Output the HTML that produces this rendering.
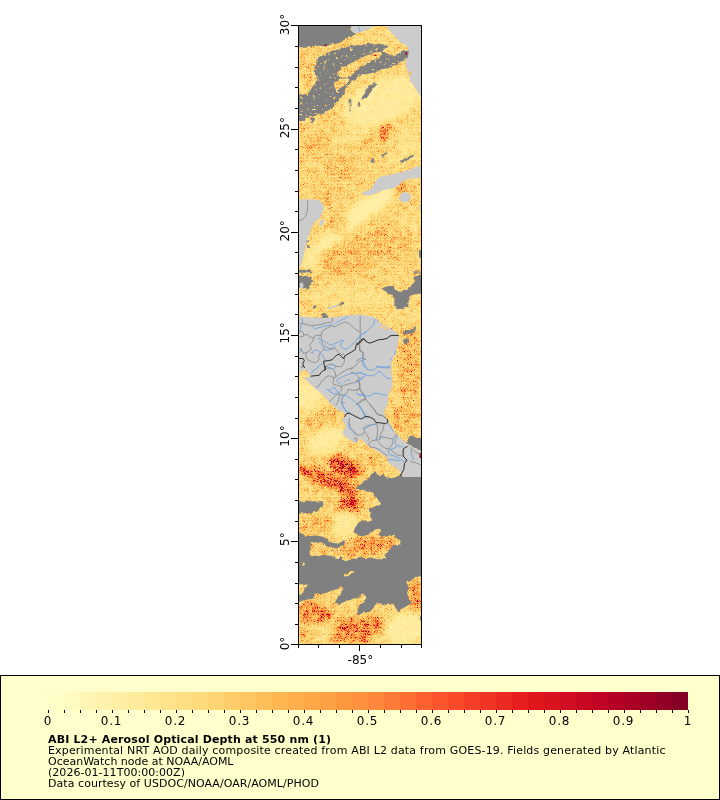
<!DOCTYPE html>
<html><head><meta charset="utf-8"><title>ABI L2+ Aerosol Optical Depth at 550 nm</title>
<style>
html,body{margin:0;padding:0;background:#fff;}
svg{display:block;}
text{font-family:"DejaVu Sans","Liberation Sans",sans-serif;fill:#000;}
.ax{font-size:12px;}
.lg{font-size:11px;}
</style></head><body>
<svg width="720" height="800" viewBox="0 0 720 800">
<rect width="720" height="800" fill="#fff"/>

<g id="map">
<defs>
<clipPath id="mc"><rect x="299" y="26" width="122" height="618"/></clipPath>
<filter id="cm" color-interpolation-filters="sRGB" filterUnits="userSpaceOnUse" x="284" y="10" width="152" height="652"><feGaussianBlur in="SourceGraphic" stdDeviation="3" result="m"/><feTurbulence type="turbulence" baseFrequency="0.7" numOctaves="1" seed="5"/><feColorMatrix type="matrix" values="1 0 0 0 0  1 0 0 0 0  1 0 0 0 0  0 0 0 0 1" result="t1"/><feTurbulence type="fractalNoise" baseFrequency="0.16" numOctaves="2" seed="8"/><feColorMatrix type="matrix" values="1 0 0 0 0  1 0 0 0 0  1 0 0 0 0  0 0 0 0 1" result="t2"/><feComposite in="t1" in2="t2" operator="arithmetic" k1="0" k2="0.95" k3="0.55" k4="0.065" result="n0"/><feComponentTransfer in="n0" result="n"><feFuncR type="table" tableValues="0.072 0.092 0.118 0.152 0.195 0.250 0.321 0.412 0.529 0.680 0.873"/><feFuncG type="table" tableValues="0.072 0.092 0.118 0.152 0.195 0.250 0.321 0.412 0.529 0.680 0.873"/><feFuncB type="table" tableValues="0.072 0.092 0.118 0.152 0.195 0.250 0.321 0.412 0.529 0.680 0.873"/></feComponentTransfer><feComposite in="m" in2="n" operator="arithmetic" k1="4" k2="0" k3="-0.32" k4="0.08" result="f"/><feComponentTransfer in="f"><feFuncR type="table" tableValues="1.000 1.000 0.996 0.996 0.992 0.988 0.890 0.741 0.502"/><feFuncG type="table" tableValues="1.000 0.929 0.851 0.698 0.553 0.306 0.102 0.000 0.000"/><feFuncB type="table" tableValues="0.800 0.627 0.463 0.298 0.235 0.165 0.110 0.149 0.149"/><feFuncA type="linear" slope="0" intercept="1"/></feComponentTransfer></filter>
<filter id="rg" color-interpolation-filters="sRGB" filterUnits="userSpaceOnUse" x="284" y="10" width="152" height="652"><feTurbulence type="fractalNoise" baseFrequency="0.22" numOctaves="2" seed="9" result="t"/><feDisplacementMap in="SourceGraphic" in2="t" scale="4" xChannelSelector="R" yChannelSelector="G"/></filter>
<filter id="spk" color-interpolation-filters="sRGB" filterUnits="userSpaceOnUse" x="284" y="10" width="152" height="652"><feTurbulence type="fractalNoise" baseFrequency="0.3 0.55" numOctaves="2" seed="21"/><feColorMatrix type="matrix" values="0 0 0 0 0  0 0 0 0 0  0 0 0 0 0  14 0 0 0 -9.2" result="n"/><feComposite in="n" in2="SourceGraphic" operator="in"/></filter>
<mask id="md" maskUnits="userSpaceOnUse" x="299" y="26" width="122" height="618"><rect x="284" y="10" width="152" height="652" fill="#000"/><g filter="url(#rg)"><rect x="284" y="10" width="152" height="652" fill="#000"/>
<polygon fill="#fff" points="288.0,14.0 351.0,14.0 351.5,29.7 353.8,32.4 356.0,33.3 353.8,34.6 350.2,36.9 346.6,38.7 342.9,40.5 339.3,42.3 335.7,43.7 332.1,44.6 327.6,45.7 323.1,46.2 318.6,45.7 314.1,46.6 309.5,46.2 305.0,46.8 301.4,47.3 288.0,47.7"/>
<polygon fill="#fff" points="288.0,92.5 303.5,94.8 308.5,92.5 312.2,87.2 316.0,81.0 317.9,76.0 314.8,72.2 314.5,65.4 318.5,57.2 324.8,53.5 333.5,50.8 341.0,48.5 348.5,46.6 356.0,45.4 366.0,44.1 376.0,43.2 383.5,44.5 387.0,45.4 387.1,47.0 383.2,49.2 383.8,51.1 388.2,54.2 392.7,55.3 397.1,54.2 401.6,51.1 406.0,49.8 408.8,51.1 409.1,55.3 408.2,59.2 404.9,60.3 401.6,61.4 398.2,63.3 394.9,65.3 391.6,67.0 388.2,68.1 384.9,68.7 381.6,69.2 378.2,70.9 373.8,72.6 369.3,73.7 364.9,74.2 360.4,74.2 356.0,79.1 351.0,81.6 348.5,84.8 346.0,88.5 344.1,92.2 342.2,96.0 339.8,98.5 336.0,101.0 333.5,104.1 332.2,106.0 344.8,86.0 344.8,93.5 337.9,101.0 332.5,108.2 323.5,113.8 314.8,116.0 307.2,117.8 288.0,122.2"/>
<polygon fill="#fff" points="374.0,81.9 377.6,83.4 373.6,87.9 370.0,93.3 366.4,98.7 362.4,99.3 364.2,93.3 368.2,87.0"/>
<polygon fill="#fff" points="358.3,101.4 360.6,102.3 359.2,106.9 357.4,106.5"/>
<polygon fill="#fff" points="349.1,98.5 351.0,99.8 351.6,104.8 351.0,111.0 349.5,111.6 349.8,104.8"/>
<polygon fill="#fff" points="371.5,158.6 374.0,158.1 373.6,162.2 371.8,162.8"/>
<polygon fill="#fff" points="381.2,155.0 386.3,151.9 387.2,153.2 384.1,156.3 381.9,156.8"/>
<polygon fill="#fff" points="399.8,161.7 404.3,158.6 413.4,154.7 414.3,155.9 406.1,160.4 401.6,163.5"/>
<polygon fill="#fff" points="288.0,118.0 305.0,118.0 304.1,120.7 288.0,122.0"/>
<polygon fill="#fff" points="310.4,118.0 315.0,118.0 313.2,122.5 310.8,123.4"/>
<polygon fill="#fff" points="305.0,240.2 309.5,240.7 308.6,242.9 305.4,242.5"/>
<polygon fill="#fff" points="305.9,245.1 310.1,245.6 308.6,247.9 306.1,247.4"/>
<polygon fill="#fff" points="288.0,269.6 312.2,270.3 311.9,272.1 305.0,272.7 288.0,272.1"/>
<polygon fill="#fff" points="288.0,276.3 305.0,275.4 311.3,278.1 313.2,281.7 309.5,285.3 311.3,288.0 306.8,289.8 303.2,287.1 288.0,289.8"/>
<polygon fill="#fff" points="382.7,289.4 386.3,286.7 391.7,285.8 394.4,288.5 397.1,291.2 400.7,292.1 404.3,289.4 407.9,288.5 411.6,284.9 415.2,281.3 413.4,277.7 417.0,275.0 432.0,274.1 432.0,292.1 418.8,293.9 415.2,293.0 411.6,295.7 408.8,300.2 407.9,305.7 404.3,308.4 398.9,309.3 394.4,306.6 394.4,299.3 391.7,294.8 387.2,293.0"/>
<polygon fill="#fff" points="418.8,250.1 432.0,249.8 432.0,257.7 419.1,257.0"/>
<polygon fill="#fff" points="413.4,271.4 432.0,271.8 432.0,273.0 413.4,272.7"/>
<polygon fill="#fff" points="312.2,307.0 315.9,306.1 316.2,308.2 312.6,308.8"/>
<polygon fill="#fff" points="339.3,303.4 343.3,302.5 342.9,304.8 339.7,305.2"/>
<polygon fill="#fff" points="321.3,313.6 324.9,312.7 327.6,315.4 326.7,318.1 322.7,318.1"/>
<polygon fill="#fff" points="402.5,332.6 406.1,330.2 411.6,329.5 416.6,327.2 417.3,329.0 413.4,331.7 407.9,333.5 404.3,335.3"/>
<polygon fill="#fff" points="402.5,339.8 408.8,339.2 410.1,342.5 404.3,344.3"/>
<polygon fill="#fff" points="406.7,442.1 407.7,437.9 410.3,435.3 413.6,436.0 415.6,437.9 432.0,437.7 432.0,451.7 416.9,449.0 412.9,447.1 409.0,445.1 405.1,442.1"/>
<polygon fill="#fff" points="358.3,485.4 362.8,481.8 368.2,478.2 371.8,473.7 375.4,471.9 379.1,475.5 382.7,474.6 386.3,477.3 391.7,478.2 397.1,476.4 402.5,474.6 407.9,474.2 415.2,475.0 432.0,476.4 432.0,574.4 416.1,577.1 411.6,580.7 406.1,582.5 408.8,587.0 407.0,593.3 408.8,598.8 411.6,602.4 407.9,606.0 403.4,607.8 398.9,612.3 395.3,607.8 393.5,603.3 388.1,605.1 382.7,604.2 377.2,602.4 373.6,607.8 369.1,612.3 364.6,611.4 359.2,615.0 355.6,614.1 357.4,610.5 359.2,606.0 362.8,602.4 366.4,597.8 365.5,594.2 361.0,595.1 355.6,597.8 350.2,599.7 345.7,602.4 340.2,604.2 334.8,602.4 337.5,597.8 342.0,593.3 343.3,588.8 341.1,586.1 338.4,588.8 332.1,590.6 326.7,592.4 321.3,594.2 315.9,593.3 313.2,596.9 308.6,599.7 303.2,600.6 288.0,604.2 288.0,501.3 306.8,501.7 314.1,501.3 323.1,501.3 324.9,504.4 323.1,507.1 375.4,507.1 380.9,503.5 379.1,499.9 375.4,496.3 371.8,492.7 366.4,490.9 361.0,489.4 356.5,488.7"/>
<polygon fill="#000" points="338.4,76.2 336.6,71.7 342.9,67.1 350.2,63.5 359.2,59.0 368.2,54.5 375.4,52.3 382.7,51.8 381.8,55.4 375.4,59.0 368.2,62.6 361.0,67.1 355.6,71.7 350.2,76.2 343.8,78.3"/>
<polygon fill="#000" points="333.5,86.0 336.0,81.6 341.0,79.1 346.0,78.5 348.5,80.4 346.0,84.1 342.2,87.2 338.5,89.1 334.8,89.8"/>
<polygon fill="#000" points="323.1,501.6 368.2,501.6 369.1,509.2 370.0,514.6 370.9,520.1 367.3,521.9 362.8,520.1 358.3,522.8 355.6,527.3 353.8,531.8 357.4,535.4 362.8,536.3 368.2,534.5 372.7,531.8 376.3,529.1 380.0,528.7 380.9,531.8 378.2,535.4 382.7,537.2 389.9,535.4 394.4,534.5 395.3,538.1 400.7,540.8 399.8,544.4 394.4,545.3 389.9,548.9 385.4,553.5 386.3,558.0 380.9,559.8 376.3,556.2 371.8,557.1 366.4,558.0 361.0,556.2 355.6,558.0 350.2,560.7 343.8,560.7 342.0,556.2 339.3,558.0 335.7,558.9 333.0,554.4 333.9,549.8 329.4,550.8 324.9,554.4 317.7,556.2 311.3,555.3 309.5,550.8 312.2,545.3 310.4,540.8 305.9,538.1 303.2,532.7 288.0,529.1 288.0,527.3 288.0,514.6 305.0,513.2 312.2,512.8 317.7,511.0 321.3,507.4 323.4,503.8"/>
<polygon fill="#000" points="343.3,574.6 348.4,572.4 353.8,570.2 354.1,572.4 349.3,575.1 344.4,576.4"/>
<polygon fill="#000" points="288.0,581.6 303.2,585.2 307.7,584.3 305.0,588.8 302.3,593.3 288.0,597.8"/>
<polygon fill="#000" points="302.5,562.5 304.7,562.5 304.7,565.6 302.5,565.6"/>
<polygon fill="#000" points="308.6,550.0 315.9,550.9 323.1,550.0 332.1,550.9 338.4,550.0 339.3,553.6 334.8,556.3 328.5,555.4 323.1,554.5 315.9,555.4 311.3,556.3 309.5,553.6"/>
<polygon fill="#000" points="342.0,557.2 344.8,552.7 350.2,550.9 357.4,550.0 364.6,549.1 365.5,552.7 361.0,556.3 355.6,557.2 350.2,559.9 343.8,560.5"/>
<polygon fill="#000" points="364.6,553.6 371.8,550.9 380.9,550.0 386.3,550.9 384.5,554.5 380.9,558.1 375.4,559.0 370.0,557.2 365.5,558.1"/>
<polygon fill="#000" points="348.0,572.6 352.3,570.2 353.8,572.0 350.2,574.4 348.4,574.9"/>
<polygon fill="#000" filter="url(#spk)" points="288.0,92.5 303.5,94.8 308.5,92.5 312.2,87.2 316.0,81.0 317.9,76.0 314.8,72.2 314.5,65.4 318.5,57.2 324.8,53.5 333.5,50.8 341.0,48.5 348.5,46.6 356.0,45.4 366.0,44.1 376.0,43.2 383.5,44.5 387.0,45.4 387.1,47.0 383.2,49.2 383.8,51.1 388.2,54.2 392.7,55.3 397.1,54.2 401.6,51.1 406.0,49.8 408.8,51.1 409.1,55.3 408.2,59.2 404.9,60.3 401.6,61.4 398.2,63.3 394.9,65.3 391.6,67.0 388.2,68.1 384.9,68.7 381.6,69.2 378.2,70.9 373.8,72.6 369.3,73.7 364.9,74.2 360.4,74.2 356.0,79.1 351.0,81.6 348.5,84.8 346.0,88.5 344.1,92.2 342.2,96.0 339.8,98.5 336.0,101.0 333.5,104.1 332.2,106.0 344.8,86.0 344.8,93.5 337.9,101.0 332.5,108.2 323.5,113.8 314.8,116.0 307.2,117.8 288.0,122.2"/>
<polygon fill="#fff" points="315.9,535.4 323.1,536.7 329.4,540.3 334.8,543.2 341.1,542.6 345.7,540.3 343.3,546.2 334.8,548.6 327.6,546.8 321.3,543.2 288.0,540.8 288.0,537.2 306.8,536.3"/>
<polygon fill="#fff" points="418.8,616.4 432.0,615.9 432.0,620.8 419.1,620.4"/>
</g></mask>
</defs>
<g clip-path="url(#mc)">
<g filter="url(#cm)">
<rect x="284" y="10" width="152" height="652" fill="#3e3e3e"/>
<ellipse cx="310.4" cy="67.1" rx="12.6" ry="21.7" transform="rotate(0 310.4 67.1)" fill="#4a4a4a" opacity="0.60"/>
<ellipse cx="382.7" cy="101.4" rx="41.5" ry="21.7" transform="rotate(-20 382.7 101.4)" fill="#1f1f1f" opacity="0.85"/>
<ellipse cx="389.9" cy="38.2" rx="14.4" ry="10.8" transform="rotate(0 389.9 38.2)" fill="#363636" opacity="0.70"/>
<ellipse cx="355.6" cy="63.5" rx="21.7" ry="4.5" transform="rotate(-25 355.6 63.5)" fill="#4c4c4c" opacity="0.50"/>
<ellipse cx="384.5" cy="132.4" rx="3.6" ry="9.0" transform="rotate(30 384.5 132.4)" fill="#a8a8a8" opacity="0.90"/>
<ellipse cx="315.9" cy="145.1" rx="14.4" ry="12.6" transform="rotate(0 315.9 145.1)" fill="#575757" opacity="0.55"/>
<ellipse cx="341.1" cy="170.4" rx="14.4" ry="14.4" transform="rotate(0 341.1 170.4)" fill="#575757" opacity="0.50"/>
<ellipse cx="368.2" cy="146.9" rx="10.8" ry="9.0" transform="rotate(0 368.2 146.9)" fill="#575757" opacity="0.45"/>
<ellipse cx="402.5" cy="187.5" rx="6.3" ry="5.4" transform="rotate(0 402.5 187.5)" fill="#808080" opacity="0.80"/>
<ellipse cx="323.1" cy="195.6" rx="12.6" ry="9.0" transform="rotate(0 323.1 195.6)" fill="#575757" opacity="0.60"/>
<ellipse cx="366.4" cy="208.3" rx="34.3" ry="9.4" transform="rotate(-34 366.4 208.3)" fill="#1a1a1a" opacity="1.00"/>
<ellipse cx="355.6" cy="132.4" rx="27.1" ry="6.3" transform="rotate(-30 355.6 132.4)" fill="#1f1f1f" opacity="0.50"/>
<ellipse cx="407.9" cy="141.5" rx="12.6" ry="16.2" transform="rotate(0 407.9 141.5)" fill="#1f1f1f" opacity="0.50"/>
<ellipse cx="395.3" cy="159.5" rx="16.2" ry="7.2" transform="rotate(0 395.3 159.5)" fill="#2b2b2b" opacity="0.50"/>
<ellipse cx="350.2" cy="255.5" rx="30.7" ry="19.9" transform="rotate(-25 350.2 255.5)" fill="#575757" opacity="0.70"/>
<ellipse cx="341.1" cy="231.2" rx="34.3" ry="7.2" transform="rotate(-37 341.1 231.2)" fill="#1a1a1a" opacity="1.00"/>
<ellipse cx="338.4" cy="223.9" rx="9.9" ry="10.8" transform="rotate(0 338.4 223.9)" fill="#575757" opacity="0.75"/>
<ellipse cx="389.9" cy="241.1" rx="23.5" ry="18.1" transform="rotate(0 389.9 241.1)" fill="#525252" opacity="0.70"/>
<ellipse cx="310.4" cy="259.1" rx="9.0" ry="12.6" transform="rotate(0 310.4 259.1)" fill="#1f1f1f" opacity="0.70"/>
<ellipse cx="350.2" cy="297.1" rx="45.1" ry="12.6" transform="rotate(0 350.2 297.1)" fill="#2b2b2b" opacity="0.60"/>
<ellipse cx="407.9" cy="223.0" rx="12.6" ry="9.0" transform="rotate(0 407.9 223.0)" fill="#2b2b2b" opacity="0.60"/>
<ellipse cx="409.8" cy="364.2" rx="12.6" ry="41.5" transform="rotate(0 409.8 364.2)" fill="#575757" opacity="0.80"/>
<ellipse cx="404.3" cy="315.4" rx="21.7" ry="7.2" transform="rotate(0 404.3 315.4)" fill="#2b2b2b" opacity="0.50"/>
<ellipse cx="306.8" cy="394.9" rx="16.2" ry="16.2" transform="rotate(0 306.8 394.9)" fill="#1f1f1f" opacity="0.90"/>
<ellipse cx="324.0" cy="421.3" rx="19.9" ry="9.0" transform="rotate(-25 324.0 421.3)" fill="#575757" opacity="0.60"/>
<ellipse cx="326.7" cy="440.3" rx="19.9" ry="12.6" transform="rotate(-20 326.7 440.3)" fill="#1f1f1f" opacity="0.90"/>
<ellipse cx="341.1" cy="472.8" rx="19.9" ry="12.6" transform="rotate(25 341.1 472.8)" fill="#575757" opacity="0.60"/>
<ellipse cx="345.7" cy="466.5" rx="18.1" ry="7.2" transform="rotate(25 345.7 466.5)" fill="#bfbfbf" opacity="0.95"/>
<ellipse cx="327.6" cy="479.8" rx="31.6" ry="6.5" transform="rotate(22 327.6 479.8)" fill="#a8a8a8" opacity="0.90"/>
<ellipse cx="350.2" cy="499.9" rx="9.0" ry="9.0" transform="rotate(0 350.2 499.9)" fill="#a8a8a8" opacity="0.80"/>
<ellipse cx="404.3" cy="418.6" rx="16.2" ry="14.4" transform="rotate(0 404.3 418.6)" fill="#575757" opacity="0.80"/>
<ellipse cx="371.8" cy="458.4" rx="12.6" ry="7.2" transform="rotate(30 371.8 458.4)" fill="#575757" opacity="0.60"/>
<ellipse cx="350.2" cy="505.6" rx="12.6" ry="6.3" transform="rotate(-10 350.2 505.6)" fill="#a8a8a8" opacity="0.90"/>
<ellipse cx="315.9" cy="523.7" rx="16.2" ry="10.8" transform="rotate(0 315.9 523.7)" fill="#575757" opacity="0.80"/>
<ellipse cx="344.8" cy="523.7" rx="12.6" ry="14.4" transform="rotate(0 344.8 523.7)" fill="#1f1f1f" opacity="0.80"/>
<ellipse cx="368.2" cy="545.3" rx="28.9" ry="9.0" transform="rotate(-10 368.2 545.3)" fill="#808080" opacity="0.60"/>
<ellipse cx="319.5" cy="548.9" rx="10.8" ry="7.2" transform="rotate(0 319.5 548.9)" fill="#575757" opacity="0.60"/>
<ellipse cx="314.1" cy="613.2" rx="19.9" ry="9.9" transform="rotate(10 314.1 613.2)" fill="#808080" opacity="0.85"/>
<ellipse cx="305.0" cy="634.9" rx="9.0" ry="8.1" transform="rotate(0 305.0 634.9)" fill="#575757" opacity="0.60"/>
<ellipse cx="326.7" cy="633.1" rx="8.1" ry="10.8" transform="rotate(0 326.7 633.1)" fill="#1f1f1f" opacity="0.60"/>
<ellipse cx="355.6" cy="629.4" rx="27.1" ry="9.0" transform="rotate(-20 355.6 629.4)" fill="#808080" opacity="0.90"/>
<ellipse cx="376.3" cy="625.8" rx="7.2" ry="5.4" transform="rotate(0 376.3 625.8)" fill="#a8a8a8" opacity="0.60"/>
<ellipse cx="361.0" cy="638.5" rx="9.9" ry="3.6" transform="rotate(0 361.0 638.5)" fill="#a8a8a8" opacity="0.60"/>
<ellipse cx="344.8" cy="622.2" rx="9.0" ry="6.3" transform="rotate(0 344.8 622.2)" fill="#a8a8a8" opacity="0.40"/>
<ellipse cx="404.3" cy="629.4" rx="19.9" ry="16.2" transform="rotate(-30 404.3 629.4)" fill="#1f1f1f" opacity="0.95"/>
<ellipse cx="415.2" cy="595.1" rx="7.2" ry="16.2" transform="rotate(0 415.2 595.1)" fill="#808080" opacity="0.70"/>
</g>
<rect x="299" y="26" width="122" height="618" fill="#808080" mask="url(#md)"/>
<polygon fill="#cccccc" points="351.0,25.8 375.4,25.8 371.6,27.6 368.2,29.2 363.8,30.9 360.4,32.6 356.6,33.3 353.8,33.1 351.6,30.9"/>
<polygon fill="#cccccc" points="386.6,25.8 388.8,29.8 391.6,33.1 394.9,36.4 398.2,39.8 400.4,43.1 404.9,44.2 407.7,47.6 408.8,52.0 408.2,56.4 406.0,59.8 405.4,64.2 406.6,68.7 408.2,73.1 409.3,77.6 410.4,82.0 411.6,84.0 411.6,81.6 416.1,89.7 420.6,96.0 422.4,98.2 422.4,23.8"/>
<polygon fill="#cccccc" points="422.4,165.8 415.2,167.1 407.9,170.4 400.7,172.2 393.5,174.0 386.3,175.4 380.0,176.7 376.3,180.3 373.6,184.8 370.9,189.3 366.4,191.1 361.9,192.4 362.8,194.7 368.2,195.6 373.3,194.2 378.2,192.4 381.8,190.2 387.2,189.1 392.6,188.4 396.8,186.6 400.7,183.4 404.3,180.3 408.8,178.8 414.3,177.9 422.4,177.6"/>
<polygon fill="#cccccc" points="400.7,193.8 404.3,192.0 408.8,192.9 411.2,196.5 409.8,200.7 406.1,202.5 401.6,202.0 398.9,199.2"/>
<polygon fill="#cccccc" points="418.8,206.5 422.4,205.6 422.4,210.4 419.7,209.7"/>
<polygon fill="#cccccc" points="297.8,199.2 314.1,199.6 319.5,200.2 323.1,204.7 324.0,208.3 322.2,212.8 319.5,219.1 297.8,219.1"/>
<polygon fill="#cccccc" points="297.8,213.1 321.3,213.1 318.6,217.6 314.1,223.0 311.3,228.4 309.5,233.9 306.8,239.3 305.9,246.5 304.1,253.7 302.3,260.9 300.5,266.4 297.8,268.2"/>
<polygon fill="#cccccc" points="320.4,220.3 324.9,219.1 324.0,223.0 320.4,226.6 319.1,223.9"/>
<polygon fill="#cccccc" points="299.6,283.5 302.3,282.2 303.6,285.3 302.3,288.9 300.0,288.9"/>
<polygon fill="#cccccc" points="327.6,307.9 332.1,306.1 337.5,304.8 337.9,306.1 333.0,307.9 328.5,309.3"/>
<polygon fill="#cccccc" points="297.8,316.3 306.8,316.9 314.1,317.6 323.1,318.1 332.1,317.6 341.1,316.3 350.2,315.1 361.0,314.5 368.2,316.3 365.7,316.0 372.5,316.5 376.4,318.9 380.3,322.8 385.2,325.7 389.1,327.7 392.9,329.6 395.9,332.0 398.8,335.0 399.3,336.9 398.3,340.3 397.8,344.2 397.3,348.1 396.3,351.0 394.9,354.9 393.4,357.8 392.0,360.7 391.5,364.6 391.0,370.0 391.0,366.0 391.5,371.8 392.0,377.7 392.5,383.5 392.0,388.4 390.0,391.3 388.6,395.2 388.1,400.0 387.6,404.9 386.1,407.8 384.2,411.7 385.2,416.6 387.1,420.0 387.5,419.4 389.4,422.9 392.1,427.5 394.7,432.1 398.6,436.0 402.5,439.9 405.1,442.1 409.0,445.1 412.9,447.1 416.9,449.0 423.4,451.7 423.4,477.1 402.5,477.1 401.2,473.2 398.6,470.6 396.6,468.0 393.4,466.0 390.1,464.7 388.1,462.1 387.5,458.8 384.2,455.6 380.3,453.0 376.4,450.3 372.5,448.4 367.9,445.8 364.6,442.5 362.7,439.9 360.1,438.6 358.1,441.2 356.2,443.2 352.9,441.9 349.0,439.2 345.1,436.6 342.4,434.0 343.8,430.1 345.7,426.8 344.4,423.6 341.8,419.7 344.4,417.1 347.0,413.8 345.1,414.4 341.8,411.2 338.8,411.2 335.9,408.3 332.5,405.4 329.1,402.0 326.1,398.6 323.2,395.2 319.3,391.8 315.4,388.8 311.6,385.4 307.7,381.6 304.3,378.6 305.2,377.7 307.7,376.7 310.1,376.7 308.6,373.8 306.7,371.3 304.8,369.4 301.8,370.9 299.4,372.8 297.0,373.3"/>
<polygon fill="#fdbb63" points="407.8,75.1 409.9,72.6 412.4,70.7 413.1,71.3 411.0,73.7 408.9,76.2"/>
<polygon fill="#fdc878" points="379.3,325.2 381.5,325.5 385.2,327.5 387.7,328.4 387.3,330.2 384.2,328.8 380.3,327.3"/>
<polygon fill="#fdd080" points="358.5,440.9 359.9,438.7 362.3,440.0 363.3,441.9 361.8,442.6 360.1,440.8"/>
<rect x="324.0" y="44.5" width="3.0" height="1.2" fill="#a50026"/>
<rect x="405.5" y="52.0" width="1.5" height="3.0" fill="#a50026"/>
<rect x="419.5" y="453.0" width="1.5" height="5.0" fill="#a50026"/>
<rect x="374.3" y="54.8" width="2.2" height="1.2" fill="#a50026"/>
<rect x="337.5" y="45.5" width="1.0" height="1.0" fill="#fee08b"/>
<polyline fill="none" stroke="#858585" stroke-width="0.8" points="299.4,323.3 303.8,323.8 307.7,324.8 311.6,325.7 315.4,325.2 321.3,324.3 327.1,322.8 331.0,322.3 332.9,320.9 332.0,317.9"/>
<polyline fill="none" stroke="#858585" stroke-width="0.8" points="332.9,325.2 333.9,327.2 336.8,325.7 341.7,323.3 345.6,322.0 349.5,323.8 353.4,327.7 357.2,330.6 360.2,332.0"/>
<polyline fill="none" stroke="#858585" stroke-width="0.8" points="332.9,325.2 329.1,327.2 324.2,329.6 321.8,332.5 321.1,335.4 321.5,340.3 323.2,344.2 326.1,347.1 330.0,348.6 333.9,348.1 336.8,350.0 339.3,353.4 341.7,354.4 344.1,353.9"/>
<polyline fill="none" stroke="#858585" stroke-width="0.8" points="299.4,330.6 302.8,332.0 303.8,335.0 307.7,334.5 309.6,336.9 314.0,337.9 315.4,335.4 321.1,335.4"/>
<polyline fill="none" stroke="#858585" stroke-width="0.8" points="314.0,337.9 312.0,342.2 309.1,345.2 311.6,347.6 310.6,350.0 306.7,352.5 303.3,353.4 301.8,350.0 299.4,348.1"/>
<polyline fill="none" stroke="#858585" stroke-width="0.8" points="306.7,352.5 305.7,355.9 307.7,359.8 311.6,361.7 315.4,362.7 319.3,359.8 318.4,356.8 320.3,352.9 323.2,349.5 325.2,348.1"/>
<polyline fill="none" stroke="#858585" stroke-width="0.8" points="299.4,336.9 303.3,336.4 303.8,335.0"/>
<polyline fill="none" stroke="#858585" stroke-width="0.8" points="360.2,316.0 360.2,339.3 359.2,345.2 359.7,351.0 363.1,352.9 363.1,357.8 366.0,359.8"/>
<polyline fill="none" stroke="#858585" stroke-width="0.8" points="344.6,357.8 344.1,362.7 341.7,366.6 336.8,366.6 332.9,364.6 329.1,364.6 325.2,366.6"/>
<polyline fill="none" stroke="#858585" stroke-width="0.8" points="366.0,358.8 359.2,361.7 354.3,366.6 350.4,370.0"/>
<polyline fill="none" stroke="#858585" stroke-width="0.8" points="359.9,345.2 359.9,350.0 362.8,352.0 363.3,354.9 361.8,357.8 356.0,361.2"/>
<polyline fill="none" stroke="#858585" stroke-width="0.8" points="325.2,369.9 329.1,367.9 332.9,368.9 334.9,371.8 335.9,376.7 333.9,377.7 329.1,375.7 326.1,376.7 324.2,379.6 321.3,381.6 319.3,385.4 315.9,387.4"/>
<polyline fill="none" stroke="#858585" stroke-width="0.8" points="335.9,376.7 339.8,373.8 344.6,370.9 348.5,368.9 352.4,367.9"/>
<polyline fill="none" stroke="#858585" stroke-width="0.8" points="333.9,377.7 332.9,382.5 333.4,384.5 337.8,385.4 341.2,386.4 341.7,390.3 338.8,393.2 334.9,396.1 332.0,399.1 329.1,402.0"/>
<polyline fill="none" stroke="#858585" stroke-width="0.8" points="341.2,386.4 346.6,384.5 350.4,383.5 354.3,382.5 358.2,380.6 359.2,377.7 356.3,374.8 354.3,372.8 350.4,372.8"/>
<polyline fill="none" stroke="#858585" stroke-width="0.8" points="359.2,380.6 360.2,385.4 359.2,389.3 363.1,393.2 366.0,399.1"/>
<polyline fill="none" stroke="#858585" stroke-width="0.8" points="348.5,389.3 352.4,390.3 358.2,390.3"/>
<polyline fill="none" stroke="#858585" stroke-width="0.8" points="348.5,389.3 346.6,393.2 343.6,395.2 338.8,394.2"/>
<polyline fill="none" stroke="#858585" stroke-width="0.8" points="338.8,393.2 339.3,397.1 337.8,402.0 335.9,405.4"/>
<polyline fill="none" stroke="#858585" stroke-width="0.8" points="343.6,395.2 341.7,399.1 341.2,402.9 344.6,402.5"/>
<polyline fill="none" stroke="#858585" stroke-width="0.8" points="366.0,399.1 362.1,401.0 358.2,403.9"/>
<polyline fill="none" stroke="#858585" stroke-width="0.8" points="356.0,380.6 358.9,380.6 359.9,388.4 356.0,389.8"/>
<polyline fill="none" stroke="#858585" stroke-width="0.8" points="359.9,388.4 362.8,394.2 365.7,399.1 369.6,403.9 373.5,408.8 377.4,414.6 382.2,415.6 385.2,417.5 387.1,420.0"/>
<polyline fill="none" stroke="#858585" stroke-width="0.8" points="365.7,399.1 361.8,400.0 356.0,404.9"/>
<polyline fill="none" stroke="#858585" stroke-width="0.8" points="349.6,417.7 349.0,422.3 350.3,427.5 354.2,432.1 358.1,435.3 362.7,434.7 364.6,431.4 364.0,428.2 367.2,425.5 371.2,424.9 377.0,423.6"/>
<polyline fill="none" stroke="#858585" stroke-width="0.8" points="377.0,423.6 377.7,430.1 377.0,436.6 376.4,439.9"/>
<polyline fill="none" stroke="#858585" stroke-width="0.8" points="384.2,423.6 382.9,430.1 380.3,434.7 379.7,439.2 381.6,436.6 386.8,437.9 393.4,439.2 394.7,436.6 396.6,434.0"/>
<polyline fill="none" stroke="#858585" stroke-width="0.8" points="393.4,439.2 392.1,444.5 389.4,448.4 385.5,448.4 381.6,445.8 379.0,442.5 376.4,439.9 371.2,441.2 368.6,443.8 369.9,447.1 375.1,447.7 380.3,450.3 384.2,453.6 388.1,456.2"/>
<polyline fill="none" stroke="#858585" stroke-width="0.8" points="364.6,431.4 367.2,435.3 369.2,439.2 367.2,441.2"/>
<polyline fill="none" stroke="#858585" stroke-width="0.8" points="353.5,439.2 356.8,437.9 356.2,441.9"/>
<polyline fill="none" stroke="#858585" stroke-width="0.8" points="369.9,404.0 373.8,409.2 377.7,414.4 382.9,415.8 386.8,418.4"/>
<polyline fill="none" stroke="#858585" stroke-width="0.8" points="389.4,448.4 393.4,452.3 397.3,454.9 402.5,456.2"/>
<polyline fill="none" stroke="#858585" stroke-width="0.8" points="410.3,447.1 415.6,452.3 422.1,454.9"/>
<polyline fill="none" stroke="#858585" stroke-width="0.8" points="410.3,461.4 415.6,462.8 422.1,465.4"/>
<polyline fill="none" stroke="#6fa4dc" stroke-width="0.9" points="301.8,317.9 302.8,321.8 301.3,324.8 300.4,328.6 299.4,331.6"/>
<polyline fill="none" stroke="#6fa4dc" stroke-width="0.9" points="312.0,326.7 314.5,329.1 318.4,327.7 324.2,326.2 330.0,325.2 332.9,325.2"/>
<polyline fill="none" stroke="#6fa4dc" stroke-width="0.9" points="334.9,323.8 338.8,321.3 342.7,319.4 346.6,317.9 347.5,316.0"/>
<polyline fill="none" stroke="#6fa4dc" stroke-width="0.9" points="318.4,336.9 319.3,339.3 322.2,340.3 326.1,342.2 330.0,345.2 332.9,344.2 335.9,343.2 338.8,341.8 341.7,340.3 343.6,340.3 341.7,343.2 340.2,345.2 341.7,347.1 345.6,349.5 348.5,348.1 352.4,344.2 356.3,340.3 360.2,336.4 363.1,333.5 366.0,332.0"/>
<polyline fill="none" stroke="#6fa4dc" stroke-width="0.9" points="319.3,342.2 322.2,345.2 324.2,348.1 325.2,350.5 329.1,350.0 332.9,349.1 333.9,347.1 334.9,345.2"/>
<polyline fill="none" stroke="#6fa4dc" stroke-width="0.9" points="310.6,352.5 313.0,353.4 313.5,350.5 316.9,350.0 319.8,352.0 321.8,354.9 323.7,356.8 324.7,359.8 323.7,361.2"/>
<polyline fill="none" stroke="#6fa4dc" stroke-width="0.9" points="299.4,352.9 300.9,350.0 301.8,348.1"/>
<polyline fill="none" stroke="#6fa4dc" stroke-width="0.9" points="315.4,370.0 319.3,365.6 323.2,363.2"/>
<polyline fill="none" stroke="#6fa4dc" stroke-width="0.9" points="330.0,363.6 332.9,364.6 335.9,366.6 334.9,368.5"/>
<polyline fill="none" stroke="#6fa4dc" stroke-width="0.9" points="325.2,366.6 329.1,367.5 332.9,369.0"/>
<polyline fill="none" stroke="#6fa4dc" stroke-width="0.9" points="362.1,354.9 363.1,358.8 362.1,362.7 364.1,366.6"/>
<polyline fill="none" stroke="#6fa4dc" stroke-width="0.9" points="375.0,318.9 374.0,323.8 370.6,327.7 366.7,331.6 361.8,334.5 358.9,337.4 356.0,339.8"/>
<polyline fill="none" stroke="#6fa4dc" stroke-width="0.9" points="363.3,354.9 362.3,358.8 363.8,362.7 365.7,366.6 367.7,370.0"/>
<polyline fill="none" stroke="#6fa4dc" stroke-width="0.9" points="375.4,367.5 376.9,366.1 381.3,367.0 386.1,367.0 390.0,366.1"/>
<polyline fill="none" stroke="#6fa4dc" stroke-width="0.9" points="395.4,351.0 394.9,354.9"/>
<polyline fill="none" stroke="#6fa4dc" stroke-width="0.9" points="391.5,357.8 391.0,359.8"/>
<polyline fill="none" stroke="#6fa4dc" stroke-width="0.9" points="376.9,319.4 378.4,321.8"/>
<polyline fill="none" stroke="#6fa4dc" stroke-width="0.9" points="311.1,373.3 313.5,370.4 316.9,368.4 318.4,366.0"/>
<polyline fill="none" stroke="#6fa4dc" stroke-width="0.9" points="327.1,389.3 330.0,390.3 332.9,387.9 334.9,387.4 335.9,390.3 337.8,391.3 336.8,393.2 333.4,394.2 332.0,392.2 329.5,391.8 327.1,389.3"/>
<polyline fill="none" stroke="#6fa4dc" stroke-width="0.9" points="338.8,394.2 341.7,395.2 342.7,397.1 341.7,401.0 342.7,404.9 344.6,408.8 347.5,411.7 350.4,413.6"/>
<polyline fill="none" stroke="#6fa4dc" stroke-width="0.9" points="342.7,395.2 347.5,396.1 351.4,399.1 355.3,402.0 358.2,404.9 361.1,408.8 364.1,412.7 366.0,414.6"/>
<polyline fill="none" stroke="#6fa4dc" stroke-width="0.9" points="335.9,380.6 338.8,378.6 342.7,376.7 347.5,374.8 351.4,373.3 355.3,373.8 360.2,372.8 364.1,373.8 366.0,375.7"/>
<polyline fill="none" stroke="#6fa4dc" stroke-width="0.9" points="336.8,381.6 339.8,383.5 341.7,384.5"/>
<polyline fill="none" stroke="#6fa4dc" stroke-width="0.9" points="343.6,382.5 345.6,380.6 348.5,379.6 350.4,380.6"/>
<polyline fill="none" stroke="#6fa4dc" stroke-width="0.9" points="356.3,393.2 359.2,395.2 363.1,395.2 366.0,397.1"/>
<polyline fill="none" stroke="#6fa4dc" stroke-width="0.9" points="359.2,380.6 362.1,378.6 365.0,375.7"/>
<polyline fill="none" stroke="#6fa4dc" stroke-width="0.9" points="363.8,366.0 366.7,368.9 370.6,370.4 374.5,369.4 377.4,367.0 381.3,367.5 386.1,367.9 391.0,367.5"/>
<polyline fill="none" stroke="#6fa4dc" stroke-width="0.9" points="356.0,373.3 359.9,372.3 363.8,374.3 368.6,375.7 373.5,375.7 377.4,372.8 380.3,371.3 383.2,374.8 387.1,378.2 391.0,378.6"/>
<polyline fill="none" stroke="#6fa4dc" stroke-width="0.9" points="356.0,383.5 357.9,381.6 359.9,378.6 363.8,376.7"/>
<polyline fill="none" stroke="#6fa4dc" stroke-width="0.9" points="357.0,393.7 359.9,395.2 362.8,394.2 365.7,395.7 369.6,396.1 373.5,393.7 377.4,393.2 382.2,394.7 387.1,395.2"/>
<polyline fill="none" stroke="#6fa4dc" stroke-width="0.9" points="356.0,402.9 359.9,406.8 362.8,411.7 364.8,415.6 365.7,418.5"/>
<polyline fill="none" stroke="#6fa4dc" stroke-width="0.9" points="341.8,404.0 343.8,407.9 346.4,411.8 349.0,413.1"/>
<polyline fill="none" stroke="#6fa4dc" stroke-width="0.9" points="358.1,404.0 362.0,409.2 364.6,415.8 369.9,417.1"/>
<polyline fill="none" stroke="#6fa4dc" stroke-width="0.9" points="348.3,422.3 349.0,427.5 352.9,431.4 356.2,435.3"/>
<polyline fill="none" stroke="#6fa4dc" stroke-width="0.9" points="362.7,428.2 367.2,427.5 371.2,424.9 376.4,424.2"/>
<polyline fill="none" stroke="#6fa4dc" stroke-width="0.9" points="388.1,423.6 390.8,427.5 393.4,431.4"/>
<polyline fill="none" stroke="#6fa4dc" stroke-width="0.9" points="375.1,439.2 379.0,439.9 381.6,437.3"/>
<polyline fill="none" stroke="#6fa4dc" stroke-width="0.9" points="397.3,435.3 396.0,439.2 394.7,443.2 397.3,445.8 403.2,447.1"/>
<polyline fill="none" stroke="#6fa4dc" stroke-width="0.9" points="397.3,446.4 393.4,448.4 388.1,450.3 389.4,454.3 394.7,456.2 399.9,458.8 403.8,461.4 406.4,460.1"/>
<polyline fill="none" stroke="#6fa4dc" stroke-width="0.9" points="388.1,459.5 394.7,460.1 399.9,460.8"/>
<polyline fill="none" stroke="#6fa4dc" stroke-width="0.9" points="411.0,449.0 411.6,454.9 413.6,460.1"/>
<polyline fill="none" stroke="#2b2b2b" stroke-width="1" points="398.8,335.4 392.9,335.4 390.0,335.9 387.1,338.4 383.2,339.3 378.4,339.8 373.5,341.8 369.6,343.2 365.7,341.3 363.3,338.4 360.9,340.3 358.9,342.2 356.0,344.2"/>
<polyline fill="none" stroke="#2b2b2b" stroke-width="1" points="366.0,340.8 363.6,338.4 361.1,341.8 358.2,344.2 356.3,344.7 355.3,349.5 351.4,352.0 346.6,354.9 344.6,355.9 343.6,358.8 341.7,356.8 339.3,354.4 336.8,354.9 333.9,357.8 332.0,359.8 328.1,360.7 323.7,361.2 324.2,364.6 325.2,368.5 325.2,370.0"/>
<polyline fill="none" stroke="#2b2b2b" stroke-width="1" points="325.2,366.0 325.2,369.9 322.7,370.9 320.8,372.8 319.3,375.2 315.4,375.7 310.6,376.2"/>
<polyline fill="none" stroke="#2b2b2b" stroke-width="1" points="298.9,358.3 303.3,358.6 304.3,360.7 302.8,363.6 303.8,366.6 304.8,368.0"/>
<polyline fill="none" stroke="#2b2b2b" stroke-width="1" points="303.3,366.0 301.8,367.5"/>
<polyline fill="none" stroke="#2b2b2b" stroke-width="1" points="344.4,417.1 346.4,413.8 349.0,413.1 352.9,415.1 356.8,417.1 361.4,419.0 365.3,416.4 369.9,417.1 373.8,419.0 375.7,422.3 380.3,422.9 385.5,423.6 387.9,422.3 387.5,419.0"/>
<polyline fill="none" stroke="#2b2b2b" stroke-width="1" points="407.5,446.4 405.1,447.7 403.2,449.0 403.2,456.2 405.1,458.2 407.1,460.1 404.5,463.4 403.8,469.3 401.8,473.2 399.9,475.9"/>
<polyline fill="none" stroke="#858585" stroke-width="0.8" points="307.7,200.2 307.7,208.9 306.0,215.6 302.7,219.4 299.1,220.7"/>
<polyline fill="none" stroke="#6fa4dc" stroke-width="0.9" points="358.2,26.0 359.1,28.7 360.2,32.0"/>
</g>
</g>

<g stroke="#000" stroke-width="1" fill="none" shape-rendering="crispEdges">
<rect x="298.5" y="25.5" width="123.0" height="619.0"/>
<line x1="291.0" y1="644.5" x2="298.0" y2="644.5"/>
<line x1="295.0" y1="624.5" x2="298.0" y2="624.5"/>
<line x1="295.0" y1="603.5" x2="298.0" y2="603.5"/>
<line x1="295.0" y1="583.5" x2="298.0" y2="583.5"/>
<line x1="295.0" y1="562.5" x2="298.0" y2="562.5"/>
<line x1="291.0" y1="541.5" x2="298.0" y2="541.5"/>
<line x1="295.0" y1="521.5" x2="298.0" y2="521.5"/>
<line x1="295.0" y1="500.5" x2="298.0" y2="500.5"/>
<line x1="295.0" y1="479.5" x2="298.0" y2="479.5"/>
<line x1="295.0" y1="459.5" x2="298.0" y2="459.5"/>
<line x1="291.0" y1="438.5" x2="298.0" y2="438.5"/>
<line x1="295.0" y1="418.5" x2="298.0" y2="418.5"/>
<line x1="295.0" y1="397.5" x2="298.0" y2="397.5"/>
<line x1="295.0" y1="376.5" x2="298.0" y2="376.5"/>
<line x1="295.0" y1="356.5" x2="298.0" y2="356.5"/>
<line x1="291.0" y1="335.5" x2="298.0" y2="335.5"/>
<line x1="295.0" y1="314.5" x2="298.0" y2="314.5"/>
<line x1="295.0" y1="294.5" x2="298.0" y2="294.5"/>
<line x1="295.0" y1="273.5" x2="298.0" y2="273.5"/>
<line x1="295.0" y1="252.5" x2="298.0" y2="252.5"/>
<line x1="291.0" y1="232.5" x2="298.0" y2="232.5"/>
<line x1="295.0" y1="211.5" x2="298.0" y2="211.5"/>
<line x1="295.0" y1="191.5" x2="298.0" y2="191.5"/>
<line x1="295.0" y1="170.5" x2="298.0" y2="170.5"/>
<line x1="295.0" y1="149.5" x2="298.0" y2="149.5"/>
<line x1="291.0" y1="129.5" x2="298.0" y2="129.5"/>
<line x1="295.0" y1="108.5" x2="298.0" y2="108.5"/>
<line x1="295.0" y1="87.5" x2="298.0" y2="87.5"/>
<line x1="295.0" y1="67.5" x2="298.0" y2="67.5"/>
<line x1="295.0" y1="46.5" x2="298.0" y2="46.5"/>
<line x1="291.0" y1="25.5" x2="298.0" y2="25.5"/>
<line x1="298.5" y1="645" x2="298.5" y2="648.0"/>
<line x1="318.5" y1="645" x2="318.5" y2="648.0"/>
<line x1="339.5" y1="645" x2="339.5" y2="648.0"/>
<line x1="359.5" y1="645" x2="359.5" y2="651.0"/>
<line x1="380.5" y1="645" x2="380.5" y2="648.0"/>
<line x1="401.5" y1="645" x2="401.5" y2="648.0"/>
<line x1="421.5" y1="645" x2="421.5" y2="648.0"/>
</g>
<text class="ax" text-anchor="middle" transform="translate(289,643.5) rotate(-90)">0°</text>
<text class="ax" text-anchor="middle" transform="translate(289,539.1) rotate(-90)">5°</text>
<text class="ax" text-anchor="middle" transform="translate(289,436.0) rotate(-90)">10°</text>
<text class="ax" text-anchor="middle" transform="translate(289,332.8) rotate(-90)">15°</text>
<text class="ax" text-anchor="middle" transform="translate(289,230.8) rotate(-90)">20°</text>
<text class="ax" text-anchor="middle" transform="translate(289,127.7) rotate(-90)">25°</text>
<text class="ax" text-anchor="middle" transform="translate(289,24.5) rotate(-90)">30°</text>
<text class="ax" text-anchor="middle" x="360.4" y="664">-85°</text>
<rect x="0.5" y="675.5" width="719" height="124" fill="#ffffcc" stroke="#000" shape-rendering="crispEdges"/>
<rect x="48" y="692" width="16" height="18" fill="#fffdc8" shape-rendering="crispEdges"/>
<rect x="64" y="692" width="16" height="18" fill="#fffabf" shape-rendering="crispEdges"/>
<rect x="80" y="692" width="16" height="18" fill="#fff6b6" shape-rendering="crispEdges"/>
<rect x="96" y="692" width="16" height="18" fill="#fff2ad" shape-rendering="crispEdges"/>
<rect x="112" y="692" width="16" height="18" fill="#ffefa4" shape-rendering="crispEdges"/>
<rect x="128" y="692" width="16" height="18" fill="#ffeb9c" shape-rendering="crispEdges"/>
<rect x="144" y="692" width="16" height="18" fill="#ffe793" shape-rendering="crispEdges"/>
<rect x="160" y="692" width="16" height="18" fill="#fee38b" shape-rendering="crispEdges"/>
<rect x="176" y="692" width="16" height="18" fill="#fedf83" shape-rendering="crispEdges"/>
<rect x="192" y="692" width="16" height="18" fill="#fedb7a" shape-rendering="crispEdges"/>
<rect x="208" y="692" width="16" height="18" fill="#fed572" shape-rendering="crispEdges"/>
<rect x="224" y="692" width="16" height="18" fill="#fecd69" shape-rendering="crispEdges"/>
<rect x="240" y="692" width="16" height="18" fill="#fec661" shape-rendering="crispEdges"/>
<rect x="256" y="692" width="16" height="18" fill="#febe59" shape-rendering="crispEdges"/>
<rect x="272" y="692" width="16" height="18" fill="#feb650" shape-rendering="crispEdges"/>
<rect x="288" y="692" width="16" height="18" fill="#feae4a" shape-rendering="crispEdges"/>
<rect x="304" y="692" width="16" height="18" fill="#fea747" shape-rendering="crispEdges"/>
<rect x="320" y="692" width="16" height="18" fill="#fea044" shape-rendering="crispEdges"/>
<rect x="336" y="692" width="16" height="18" fill="#fd9841" shape-rendering="crispEdges"/>
<rect x="352" y="692" width="16" height="18" fill="#fd913e" shape-rendering="crispEdges"/>
<rect x="368" y="692" width="16" height="18" fill="#fd873a" shape-rendering="crispEdges"/>
<rect x="384" y="692" width="16" height="18" fill="#fd7a37" shape-rendering="crispEdges"/>
<rect x="400" y="692" width="16" height="18" fill="#fc6e33" shape-rendering="crispEdges"/>
<rect x="416" y="692" width="16" height="18" fill="#fc612f" shape-rendering="crispEdges"/>
<rect x="432" y="692" width="16" height="18" fill="#fc542c" shape-rendering="crispEdges"/>
<rect x="448" y="692" width="16" height="18" fill="#fa4929" shape-rendering="crispEdges"/>
<rect x="464" y="692" width="16" height="18" fill="#f43e26" shape-rendering="crispEdges"/>
<rect x="480" y="692" width="16" height="18" fill="#f03423" shape-rendering="crispEdges"/>
<rect x="496" y="692" width="16" height="18" fill="#ea2a20" shape-rendering="crispEdges"/>
<rect x="512" y="692" width="16" height="18" fill="#e61f1d" shape-rendering="crispEdges"/>
<rect x="528" y="692" width="16" height="18" fill="#df171d" shape-rendering="crispEdges"/>
<rect x="544" y="692" width="16" height="18" fill="#d8121f" shape-rendering="crispEdges"/>
<rect x="560" y="692" width="16" height="18" fill="#d00d21" shape-rendering="crispEdges"/>
<rect x="576" y="692" width="16" height="18" fill="#c80823" shape-rendering="crispEdges"/>
<rect x="592" y="692" width="16" height="18" fill="#c10325" shape-rendering="crispEdges"/>
<rect x="608" y="692" width="16" height="18" fill="#b70026" shape-rendering="crispEdges"/>
<rect x="624" y="692" width="16" height="18" fill="#ab0026" shape-rendering="crispEdges"/>
<rect x="640" y="692" width="16" height="18" fill="#9e0026" shape-rendering="crispEdges"/>
<rect x="656" y="692" width="16" height="18" fill="#920026" shape-rendering="crispEdges"/>
<rect x="672" y="692" width="16" height="18" fill="#860026" shape-rendering="crispEdges"/>
<g stroke="#000" stroke-width="1" shape-rendering="crispEdges">
<line x1="48.5" y1="710" x2="48.5" y2="713"/>
<line x1="64.5" y1="710" x2="64.5" y2="713"/>
<line x1="80.5" y1="710" x2="80.5" y2="713"/>
<line x1="96.5" y1="710" x2="96.5" y2="713"/>
<line x1="112.5" y1="710" x2="112.5" y2="713"/>
<line x1="128.5" y1="710" x2="128.5" y2="713"/>
<line x1="144.5" y1="710" x2="144.5" y2="713"/>
<line x1="160.5" y1="710" x2="160.5" y2="713"/>
<line x1="176.5" y1="710" x2="176.5" y2="713"/>
<line x1="192.5" y1="710" x2="192.5" y2="713"/>
<line x1="208.5" y1="710" x2="208.5" y2="713"/>
<line x1="224.5" y1="710" x2="224.5" y2="713"/>
<line x1="240.5" y1="710" x2="240.5" y2="713"/>
<line x1="256.5" y1="710" x2="256.5" y2="713"/>
<line x1="272.5" y1="710" x2="272.5" y2="713"/>
<line x1="288.5" y1="710" x2="288.5" y2="713"/>
<line x1="304.5" y1="710" x2="304.5" y2="713"/>
<line x1="320.5" y1="710" x2="320.5" y2="713"/>
<line x1="336.5" y1="710" x2="336.5" y2="713"/>
<line x1="352.5" y1="710" x2="352.5" y2="713"/>
<line x1="368.5" y1="710" x2="368.5" y2="713"/>
<line x1="384.5" y1="710" x2="384.5" y2="713"/>
<line x1="400.5" y1="710" x2="400.5" y2="713"/>
<line x1="416.5" y1="710" x2="416.5" y2="713"/>
<line x1="432.5" y1="710" x2="432.5" y2="713"/>
<line x1="448.5" y1="710" x2="448.5" y2="713"/>
<line x1="464.5" y1="710" x2="464.5" y2="713"/>
<line x1="480.5" y1="710" x2="480.5" y2="713"/>
<line x1="496.5" y1="710" x2="496.5" y2="713"/>
<line x1="512.5" y1="710" x2="512.5" y2="713"/>
<line x1="528.5" y1="710" x2="528.5" y2="713"/>
<line x1="544.5" y1="710" x2="544.5" y2="713"/>
<line x1="560.5" y1="710" x2="560.5" y2="713"/>
<line x1="576.5" y1="710" x2="576.5" y2="713"/>
<line x1="592.5" y1="710" x2="592.5" y2="713"/>
<line x1="608.5" y1="710" x2="608.5" y2="713"/>
<line x1="624.5" y1="710" x2="624.5" y2="713"/>
<line x1="640.5" y1="710" x2="640.5" y2="713"/>
<line x1="656.5" y1="710" x2="656.5" y2="713"/>
<line x1="672.5" y1="710" x2="672.5" y2="713"/>
<line x1="688.5" y1="710" x2="688.5" y2="713"/>
</g>
<text class="ax" text-anchor="middle" x="47.5" y="725">0</text>
<text class="ax" x="100.8" y="725" textLength="20.6" lengthAdjust="spacing">0.1</text>
<text class="ax" x="164.8" y="725" textLength="20.6" lengthAdjust="spacing">0.2</text>
<text class="ax" x="228.8" y="725" textLength="20.6" lengthAdjust="spacing">0.3</text>
<text class="ax" x="292.8" y="725" textLength="20.6" lengthAdjust="spacing">0.4</text>
<text class="ax" x="356.8" y="725" textLength="20.6" lengthAdjust="spacing">0.5</text>
<text class="ax" x="420.8" y="725" textLength="20.6" lengthAdjust="spacing">0.6</text>
<text class="ax" x="484.8" y="725" textLength="20.6" lengthAdjust="spacing">0.7</text>
<text class="ax" x="548.8" y="725" textLength="20.6" lengthAdjust="spacing">0.8</text>
<text class="ax" x="612.8" y="725" textLength="20.6" lengthAdjust="spacing">0.9</text>
<text class="ax" text-anchor="middle" x="687.5" y="725">1</text>
<text class="lg" x="48" y="742.5" textLength="283.0" lengthAdjust="spacing" font-weight="bold">ABI L2+ Aerosol Optical Depth at 550 nm (1)</text>
<text class="lg" x="48" y="754.0" textLength="617.5" lengthAdjust="spacing">Experimental NRT AOD daily composite created from ABI L2 data from GOES-19. Fields generated by Atlantic</text>
<text class="lg" x="48" y="765.0" textLength="185.5" lengthAdjust="spacing">OceanWatch node at NOAA/AOML</text>
<text class="lg" x="48" y="776.0" textLength="137.0" lengthAdjust="spacing">(2026-01-11T00:00:00Z)</text>
<text class="lg" x="48" y="787.0" textLength="271.0" lengthAdjust="spacing">Data courtesy of USDOC/NOAA/OAR/AOML/PHOD</text>
</svg>
</body></html>
